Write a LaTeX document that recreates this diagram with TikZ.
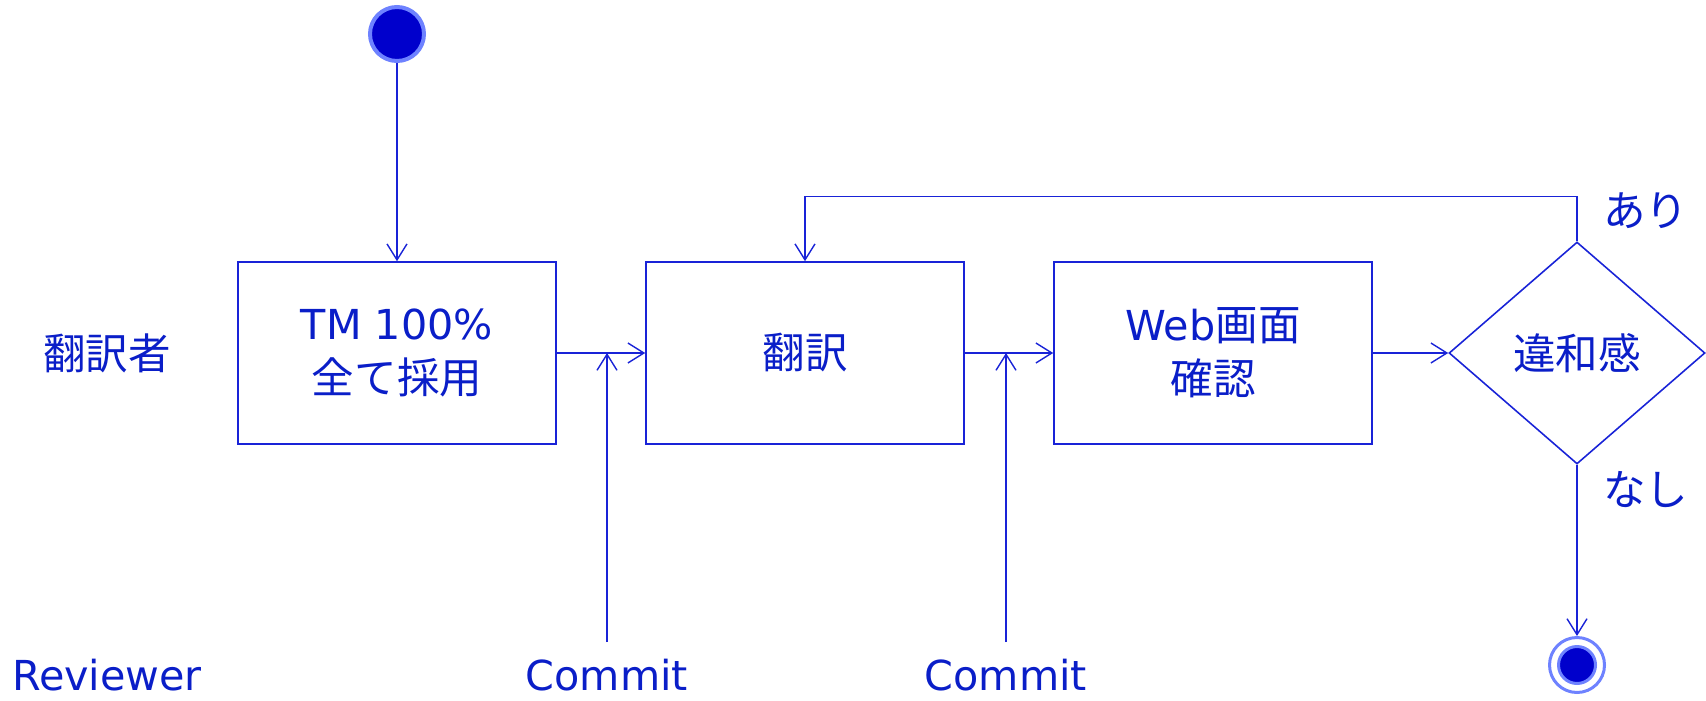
\documentclass[tikz,border=0pt]{standalone}
\usepackage{fontspec}
\setmainfont{DejaVu Sans}
\newfontfamily\jp[Scale=1.03]{Noto Sans CJK JP}
\usetikzlibrary{shapes.geometric,arrows.meta,positioning,calc}
\definecolor{ink}{RGB}{0,0,204}
\definecolor{wire}{RGB}{25,35,215}
\definecolor{txt}{RGB}{10,30,200}
\definecolor{halo}{RGB}{110,130,255}
\tikzset{
block/.style = {draw=wire, line width=0.9pt, rectangle, minimum width=6.36cm, minimum height=3.64cm, align=center, text=txt},
decision/.style = {draw=wire, line width=0.9pt, diamond, minimum width=5.12cm, minimum height=4.44cm, inner sep=0pt, text=txt},
start/.style = {circle, fill=ink, draw=halo, line width=0.08cm, minimum size=1.08cm, inner sep=0pt},
stop/.style = {circle, draw=halo, line width=0.06cm, minimum size=1.1cm, inner sep=0pt,
  path picture={\draw[fill=ink, draw=halo, line width=0.06cm] (path picture bounding box.center) circle (0.37cm);}},
lane/.style = {text=txt, inner sep=0pt},
flow/.style = {->, draw=wire, line width=0.8pt}
}

\begin{document}
\begin{tikzpicture}[auto, node distance=8.16cm, >={Straight Barb[length=0.32cm,width=0.4cm]}, font=\fontsize{23.5pt}{30.7pt}\selectfont]
\useasboundingbox (0,0) rectangle (34.12,-14);
\node[start] (init) at (7.94,-0.68) {};
\node[block, below of=init, node distance=6.38cm] (tm) {TM 100\%\\{\jp 全て採用}};
\node[block, right of=tm] (trans) {{\jp 翻訳}};
\node[block, right of=trans] (web) {Web{\jp 画面}\\{\jp 確認}};
\node[decision, right of=web, node distance=7.28cm] (diff) {{\jp 違和感}};
\node[stop, below of=diff, node distance=6.24cm] (final) {};
\node[lane, left of=tm, node distance=5.8cm] (translator) {{\jp 翻訳者}};
\node[lane, below of=translator, node distance=6.44cm] (reviewer) {Reviewer};
\node[lane, right of=reviewer, node distance=10cm] (commit1) {Commit};
\node[lane, right of=commit1, node distance=7.98cm] (commit2) {Commit};
\node[lane, anchor=west] (yes) at ([xshift=0.52cm,yshift=0.62cm]diff.north) {{\jp あり}};
\node[lane, anchor=west] (no) at ([xshift=0.52cm,yshift=-0.5cm]diff.south) {{\jp なし}};
\coordinate[above of=commit1, node distance=0.66cm] (c1);
\coordinate[above of=commit2, node distance=0.66cm] (c2);
\draw[flow] (init) -- (tm);
\draw[flow] (tm) -- (trans);
\draw[flow] (trans) -- (web);
\draw[flow] (web) -- (diff);
\draw[flow] (diff) -- (final);
\draw[flow] (diff.north) -- ++(0,0.9) -| (trans.north);
\draw[flow] (c1) -- (c1 |- tm.east);
\draw[flow] (c2) -- (c2 |- trans.east);
\end{tikzpicture}
\end{document}
